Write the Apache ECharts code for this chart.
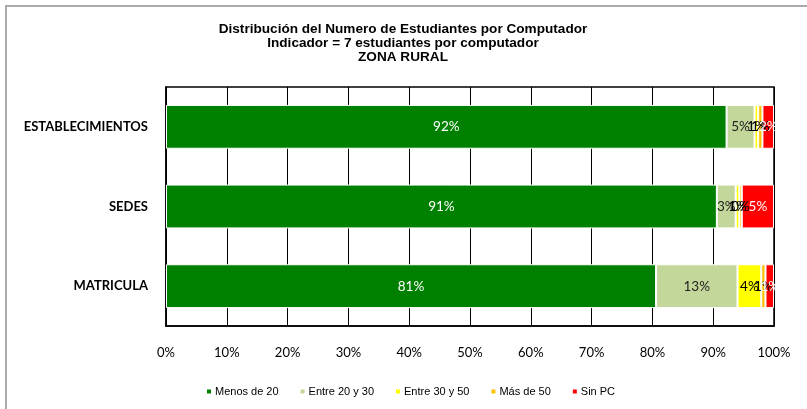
<!DOCTYPE html>
<html><head><meta charset="utf-8">
<script src="https://cdn.jsdelivr.net/npm/echarts@6/dist/echarts.min.js"></script>
<style>html,body{margin:0;padding:0;background:#fff}#c{width:807px;height:409px}</style>
</head><body><div id="c"></div>
<script>
const categories = ['ESTABLECIMIENTOS', 'SEDES', 'MATRICULA'];
const seriesNames = ['Menos de 20', 'Entre 20 y 30', 'Entre 30 y 50', 'Más de 50', 'Sin PC'];
const menos20 = [92.2, 90.6, 80.6];
const entre20y30 = [4.6, 3.1, 13.4];
const entre30y50 = [0.6, 0.6, 3.9];
const mas50 = [0.7, 0.4, 0.7];
const sinPC = [1.9, 5.3, 1.4];
const xTicks = [0, 10, 20, 30, 40, 50, 60, 70, 80, 90, 100];

const colors = ['#008000', '#C4D79B', '#FFFF00', '#FFC000', '#FF0000'];
const labelColors = ['#ffffff', '#222222', '#000000', '#000000', '#ffffff'];
const dataSets = [menos20, entre20y30, entre30y50, mas50, sinPC];
const labelFont = 'Lato, "Open Sans", sans-serif';

const chart = echarts.init(document.getElementById('c'), null, {renderer: 'canvas'});
chart.setOption({
  animation: false,
  backgroundColor: '#ffffff',
  title: {
    text: 'Distribución del Numero de Estudiantes por Computador\nIndicador = 7 estudiantes por computador\nZONA RURAL',
    left: 398, top: 17, textAlign: 'center',
    textStyle: {fontFamily: '"Liberation Sans", Arial, sans-serif', fontSize: 13.6, fontWeight: 'bold', color: '#000', lineHeight: 14}
  },
  legend: {
    data: seriesNames,
    left: 200, top: 381,
    itemWidth: 6, itemHeight: 6, itemGap: 20,
    icon: 'rect',
    textStyle: {fontFamily: '"Liberation Sans", Arial, sans-serif', fontSize: 11, color: '#000', padding: [0,0,0,-2]}
  },
  grid: {left: 166, right: 33, top: 87, bottom: 83, containLabel: false, show: true, borderColor: '#000', borderWidth: 1.5},
  xAxis: {
    type: 'value', min: 0, max: 100, interval: 10,
    axisLine: {show: true, lineStyle: {color: '#000', width: 1.5}},
    axisTick: {show: false},
    splitLine: {show: true, lineStyle: {color: '#000', width: 1}},
    axisLabel: {formatter: v => xTicks.includes(v) ? v + '%' : '', margin: 20, fontFamily: labelFont, fontSize: 13, color: '#000'}
  },
  yAxis: {
    type: 'category', data: categories, inverse: true,
    axisLine: {show: true, lineStyle: {color: '#000', width: 1.5}},
    axisTick: {show: false},
    axisLabel: {margin: 18, fontFamily: labelFont, fontSize: 13, fontWeight: 'bold', color: '#000'}
  },
  series: seriesNames.map((name, i) => ({
    name: name, type: 'bar', stack: 'total', barWidth: '55%',
    data: dataSets[i],
    itemStyle: {color: colors[i], borderColor: '#fff', borderWidth: 1},
    label: {show: true, position: 'inside', formatter: p => Math.round(p.value) + '%',
      color: labelColors[i], fontFamily: labelFont, fontSize: 13.5}
  }))
});
</script>
<div style="position:absolute;left:5px;top:5px;width:1000px;height:1000px;border-left:2px solid #aaa;border-top:2px solid #aaa;pointer-events:none"></div>
</body></html>
